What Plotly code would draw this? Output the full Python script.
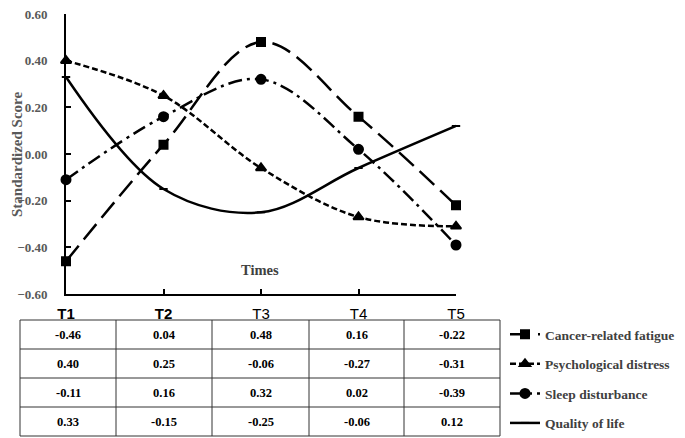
import plotly.graph_objects as go

times = ["T1", "T2", "T3", "T4", "T5"]
series_names = ["Cancer-related fatigue", "Psychological distress", "Sleep disturbance", "Quality of life"]
fatigue = [-0.46, 0.04, 0.48, 0.16, -0.22]
distress = [0.40, 0.25, -0.06, -0.27, -0.31]
sleep = [-0.11, 0.16, 0.32, 0.02, -0.39]
qol = [0.33, -0.15, -0.25, -0.06, 0.12]
y_ticks = [-0.6, -0.4, -0.2, 0.0, 0.2, 0.4, 0.6]

# page body has an 8px margin; size the figure so it fits the window
OFF = 8
W, H = 685 - OFF, 438 - OFF
def px(x): return min(1.0, max(0.0, (x - OFF) / W))
def py(y): return min(1.0, max(0.0, 1 - (y - OFF) / H))

series = [fatigue, distress, sleep, qol]
styles = [
    dict(dash="20px,8px", symbol="square", size=8),
    dict(dash="6px,3px", symbol="triangle-up", size=9),
    dict(dash="14px,5px,3px,5px", symbol="circle", size=9),
    dict(dash="solid", symbol="line-ew", size=6),
]

xpos = list(range(len(times)))
fig = go.Figure()
for i, (name, vals, st) in enumerate(zip(series_names, series, styles)):
    fig.add_trace(go.Scatter(
        x=xpos, y=vals, name=name, mode="lines+markers",
        line=dict(color="black", width=2.5, dash=st["dash"], shape="spline", smoothing=1.0),
        marker=dict(symbol=st["symbol"], size=st["size"], color="black",
                    line=dict(color="black", width=2)),
        legendgroup=f"g{i}", cliponaxis=False,
    ))

serif = "Liberation Serif"
fig.update_layout(
    width=W, height=H, margin=dict(l=0, r=0, t=0, b=0, autoexpand=False),
    plot_bgcolor="white", paper_bgcolor="white",
    xaxis=dict(domain=[px(66), px(456)], range=[0, 4], tickvals=xpos, automargin=False,
               ticktext=["<b>T1</b>", "<b>T2</b>", "T3", "T4", "T5"],
               showline=True, linecolor="black", linewidth=2, ticks="inside",
               ticklen=5, tickwidth=1.5, tickcolor="black", showgrid=False, zeroline=False,
               ticklabelstandoff=5, ticklabeloverflow="allow",
               tickfont=dict(family="Liberation Sans", size=15, color="black")),
    yaxis=dict(domain=[py(294), py(14)], range=[-0.6, 0.6], tickvals=y_ticks, tickformat=".2f",
               automargin=False, ticklabeloverflow="allow", ticklabelstandoff=14,
               showline=True, linecolor="black", linewidth=2, ticks="inside",
               ticklen=5, tickwidth=1.5, tickcolor="black", showgrid=False, zeroline=False,
               tickfont=dict(family=serif, size=13, color="#595959", weight="bold")),
    legend=dict(x=px(505), y=py(319), xanchor="left", yanchor="top",
                font=dict(family=serif, size=13.5, color="#404040", weight="bold"),
                tracegroupgap=9, bgcolor="rgba(0,0,0,0)"),
    showlegend=True,
)

# y-axis title
fig.add_annotation(x=px(17), y=py(155), xref="paper", yref="paper", text="<b>Standardized Score</b>",
                   textangle=-90, xanchor="center", yanchor="middle", borderpad=0,
                   showarrow=False, font=dict(family=serif, size=15, color="#595959"))

fig.add_annotation(x=px(260), y=py(270), xref="paper", yref="paper", text="<b>Times</b>",
                   xanchor="center", yanchor="middle",
                   showarrow=False, font=dict(family=serif, size=14.5, color="#404040"))

# table
col_edges = [20, 116, 212, 309, 404, 500]
row_edges = [320, 349, 378, 407, 436]
shapes = []
for xe in col_edges:
    shapes.append(dict(type="line", xref="paper", yref="paper", x0=px(xe), x1=px(xe),
                       y0=py(row_edges[0]), y1=py(row_edges[-1]), line=dict(color="#333333", width=1)))
for ye in row_edges:
    shapes.append(dict(type="line", xref="paper", yref="paper", x0=px(col_edges[0]), x1=px(col_edges[-1]),
                       y0=py(ye), y1=py(ye), line=dict(color="#333333", width=1)))
fig.update_layout(shapes=shapes)
for r, vals in enumerate(series):
    yc = (row_edges[r] + row_edges[r + 1]) / 2
    for c, v in enumerate(vals):
        xc = (col_edges[c] + col_edges[c + 1]) / 2
        fig.add_annotation(x=px(xc), y=py(yc), xref="paper", yref="paper", text=f"<b>{v:.2f}</b>",
                           xanchor="center", yanchor="middle",
                           showarrow=False, font=dict(family=serif, size=12.5, color="black"))

fig.write_html("out.html")
